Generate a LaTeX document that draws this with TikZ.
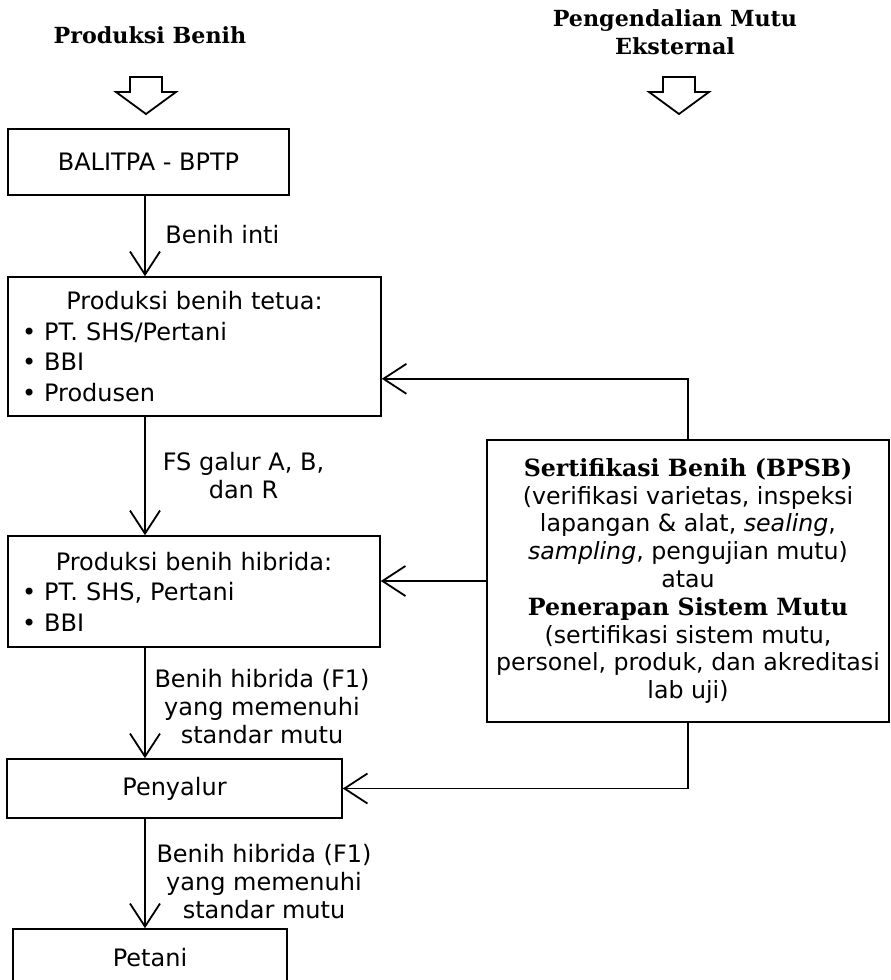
\documentclass[tikz,border=0pt]{standalone}
\usepackage{fontspec}
\setmainfont{DejaVu Sans}
\newfontfamily\serifjudul{DejaVu Serif}
\usetikzlibrary{arrows.meta}
\usetikzlibrary{calc}
\newcommand{\tebal}[1]{{\serifjudul\bfseries #1}}
\tikzset{kotak/.style={draw, line width=0.8pt, inner sep=0pt,
            font=\fontsize{12}{15.25}\selectfont},
         alur/.style={line width=0.9pt,
            -{Straight Barb[length=11.5pt,width=15pt,line width=0.9pt]}},
         ket/.style={font=\fontsize{12}{14}\selectfont, align=center, inner sep=0pt},
         judul/.style={font=\fontsize{11.1}{14}\selectfont\serifjudul\bfseries,
            align=center, inner sep=0pt},
         panah besar/.style={draw, line width=0.9pt, line join=miter}}

\begin{document}
\begin{tikzpicture}[x=0.5pt,y=-0.5pt]
\useasboundingbox (0,0) rectangle (890,980);
% judul kolom
\node[judul, anchor=base] (produksi) at (150,43) {Produksi Benih};
\node[judul] (mutu) at (675,32) {Pengendalian Mutu\\Eksternal};
\foreach \x in {146,679}
    \draw[panah besar] (\x-16,77) -- (\x+16,77) -- (\x+16,92) -- (\x+30,92)
        -- (\x,114) -- (\x-30,92) -- (\x-16,92) -- cycle;

% kotak-kotak alur benih
\node[kotak, minimum width=140.5pt, minimum height=33pt] (balitpa) at (148.5,162) {BALITPA - BPTP};
\node[kotak, minimum width=186.5pt, minimum height=69.5pt, text width=172.5pt, align=left]
    (tetua) at (194.5,346.5)
    {{\centering Produksi benih tetua:\par}\textbullet\ PT. SHS/Pertani\\ \textbullet\ BBI\\ \textbullet\ Produsen};
\node[kotak, minimum width=186pt, minimum height=55.5pt, text width=172pt, align=left]
    (hibrida) at (194,591.5)
    {{\centering Produksi benih hibrida:\par}\textbullet\ PT. SHS, Pertani\\ \textbullet\ BBI};
\node[kotak, minimum width=167.5pt, minimum height=29.5pt] (penyalur) at (174.5,788.5) {Penyalur};
\node[kotak, minimum width=137pt, minimum height=29pt] (petani) at (150,958) {Petani};
\node[kotak, minimum width=201pt, minimum height=141pt, align=center,
    font=\fontsize{11.85}{13.9}\selectfont] (sert) at (688,581)
    {\tebal{Sertifikasi Benih (BPSB)}\\
     (verifikasi varietas, inspeksi\\
     lapangan \& alat, \textit{sealing},\\
     \textit{sampling}, pengujian mutu)\\
     atau\\
     \tebal{Penerapan Sistem Mutu}\\
     (sertifikasi sistem mutu,\\
     personel, produk, dan akreditasi\\
     lab uji)};

% panah utama
\coordinate (poros) at (145,0);
\draw[alur] (balitpa.south -| poros) -- (tetua.north -| poros);
\draw[alur] (tetua.south -| poros) -- (hibrida.north -| poros);
\draw[alur] (hibrida.south -| poros) -- (penyalur.north -| poros);
\draw[alur] (penyalur.south -| poros) -- (petani.north -| poros);
\node[ket, anchor=base west] (inti) at (165,243) {Benih inti};
\node[ket] (galur) at (243.5,476) {FS galur A, B,\\dan R};
\node[ket] (f1a) at (262,707) {Benih hibrida (F1)\\yang memenuhi\\standar mutu};
\node[ket] (f1b) at (264,882) {Benih hibrida (F1)\\yang memenuhi\\standar mutu};

% panah pengendalian mutu
\draw[alur] (sert.north) |- ($(tetua.south east)+(0,-38)$);
\draw[alur] (sert.west) -- (sert.west -| hibrida.east);
\draw[alur] (sert.south) |- (penyalur.east);
\end{tikzpicture}
\end{document}
